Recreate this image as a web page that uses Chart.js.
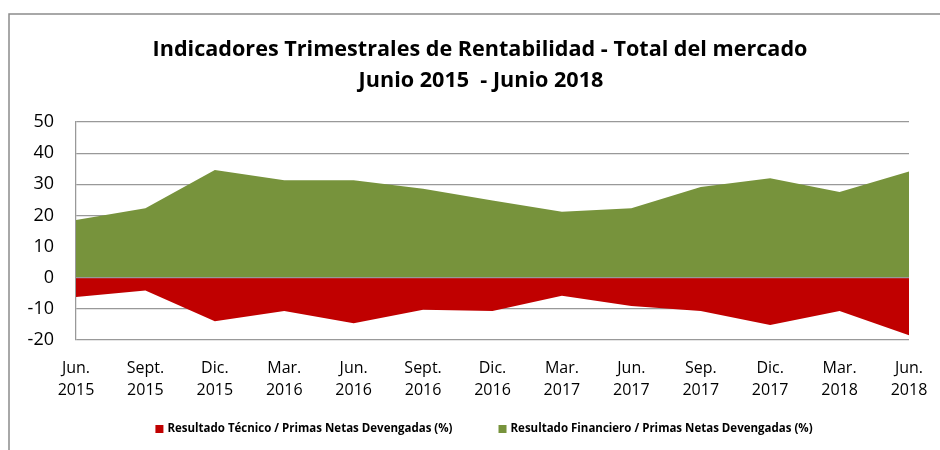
<!DOCTYPE html>
<html><head><meta charset="utf-8">
<script src="https://cdn.jsdelivr.net/npm/chart.js@4.4.0/dist/chart.umd.min.js"></script>
<style>html,body{margin:0;padding:0;background:#fff}#wrap{position:relative;width:940px;height:450px}</style>
</head><body><div id="wrap"><canvas id="c" width="940" height="450"></canvas></div>
<script>
const categories = [["Jun.","2015"],["Sept.","2015"],["Dic.","2015"],["Mar.","2016"],["Jun.","2016"],["Sept.","2016"],["Dic.","2016"],["Mar.","2017"],["Jun.","2017"],["Sep.","2017"],["Dic.","2017"],["Mar.","2018"],["Jun.","2018"]];
const resultadoTecnico = [-6.2, -4.1, -14.0, -10.7, -14.6, -10.3, -10.7, -5.8, -9.1, -10.7, -15.2, -10.7, -18.5];
const resultadoFinanciero = [18.5, 22.3, 34.6, 31.3, 31.3, 28.6, 24.8, 21.2, 22.3, 29.1, 31.9, 27.5, 34.1];
const titleLines = ["Indicadores Trimestrales de Rentabilidad - Total del mercado", "Junio 2015  - Junio 2018"];
const seriesNames = ["Resultado Técnico / Primas Netas Devengadas (%)", "Resultado Financiero / Primas Netas Devengadas (%)"];
const yMin = -20, yMax = 50, yStep = 10;

const frame = {
  id: 'frame',
  beforeDraw(chart) {
    const ctx = chart.ctx;
    ctx.save();
    ctx.fillStyle = '#fff';
    ctx.fillRect(0, 0, chart.width, chart.height);
    ctx.strokeStyle = '#8c8c8c';
    ctx.lineWidth = 1.5;
    ctx.beginPath();
    ctx.moveTo(9, chart.height + 5);
    ctx.lineTo(9, 14);
    ctx.lineTo(chart.width + 5, 14);
    ctx.stroke();
    // title
    ctx.fillStyle = '#000';
    ctx.font = 'bold 21.6px "Open Sans"';
    ctx.textAlign = 'center';
    ctx.textBaseline = 'alphabetic';
    ctx.fillText(titleLines[0], 480, 56);
    ctx.fillText(titleLines[1], 481, 87);
    ctx.restore();
  },
  afterDatasetsDraw(chart) {
    const ctx = chart.ctx, y = chart.scales.y.getPixelForValue(0), a = chart.chartArea;
    ctx.save();
    ctx.strokeStyle = '#999';
    ctx.lineWidth = 1.25;
    ctx.beginPath();
    ctx.moveTo(a.left, y);
    ctx.lineTo(a.right, y);
    ctx.stroke();
    ctx.restore();
  },
  afterDraw(chart) {
    const ctx = chart.ctx;
    ctx.save();
    ctx.font = 'bold 11.5px "Open Sans"';
    ctx.textBaseline = 'middle';
    const box = 8, gapBox = 4, gapItem = 46;
    const items = chart.data.datasets.map(d => ({ text: d.label, color: d.backgroundColor, w: ctx.measureText(d.label).width }));
    const total = items.reduce((s, it) => s + box + gapBox + it.w, 0) + gapItem * (items.length - 1);
    let x = 484 - total / 2;
    const y = 429;
    items.forEach(it => {
      ctx.fillStyle = it.color;
      ctx.fillRect(x, y - box / 2, box, box);
      ctx.fillStyle = '#000';
      ctx.fillText(it.text, x + box + gapBox, y);
      x += box + gapBox + it.w + gapItem;
    });
    ctx.restore();
  }
};

new Chart(document.getElementById('c'), {
  type: 'line',
  data: {
    labels: categories,
    datasets: [
      { label: seriesNames[0], data: resultadoTecnico, fill: 'origin', backgroundColor: '#C00000', borderWidth: 0, pointRadius: 0, tension: 0 },
      { label: seriesNames[1], data: resultadoFinanciero, fill: 'origin', backgroundColor: '#77933C', borderWidth: 0, pointRadius: 0, tension: 0 }
    ]
  },
  options: {
    responsive: false,
    animation: false,
    devicePixelRatio: 1,
    layout: { padding: { left: 9, right: 31, top: 122, bottom: 30 } },
    plugins: {
      legend: { display: false },
      tooltip: { enabled: false },
      title: { display: false }
    },
    scales: {
      x: {
        offset: false,
        grid: { display: false },
        border: { display: false },
        ticks: { color: '#000', font: { family: '"Open Sans"', size: 16, lineHeight: 1.375 }, padding: 9, maxRotation: 0, autoSkip: false },
        afterFit(s) { s.height = 80; }
      },
      y: {
        min: yMin, max: yMax,
        grid: { color: '#999', lineWidth: 1.25, drawTicks: false },
        border: { display: true, color: '#999', width: 1.25 },
        ticks: { stepSize: yStep, color: '#000', font: { family: '"Open Sans"', size: 18 }, padding: 22 },
        afterFit(s) { s.width = 67; }
      }
    }
  },
  plugins: [frame]
});
</script></body></html>
